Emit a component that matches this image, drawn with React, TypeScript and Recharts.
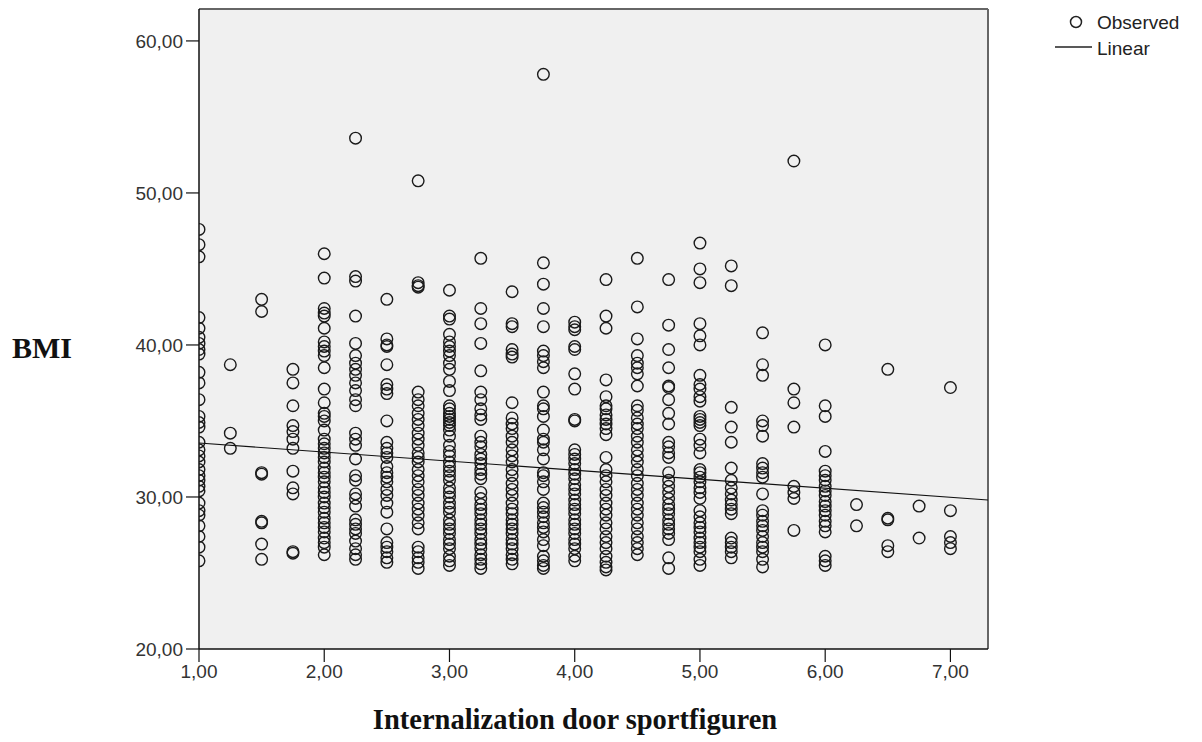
import React from "react";
import {
  ScatterChart,
  Scatter,
  XAxis,
  YAxis,
  CartesianGrid,
  ReferenceLine,
  Label,
} from "recharts";

// x categories (Internalization door sportfiguren) and observed BMI values per x
const xLevels = [1, 1.25, 1.5, 1.75, 2, 2.25, 2.5, 2.75, 3, 3.25, 3.5, 3.75, 4, 4.25, 4.5, 4.75, 5, 5.25, 5.5, 5.75, 6, 6.25, 6.5, 6.75, 7];

const bmi100 = [47.6, 46.6, 45.8, 41.8, 41.1, 40.5, 40.1, 39.7, 39.4, 38.2, 37.5, 36.4, 35.3, 34.9, 34.6, 33.6, 33.1, 32.7, 32.3, 31.8, 31.4, 31.1, 30.7, 30.4, 29.6, 29.1, 28.8, 28.1, 27.4, 26.7, 25.8];
const bmi125 = [38.7, 34.2, 33.2];
const bmi150 = [43.0, 42.2, 31.6, 31.5, 28.4, 28.3, 26.9, 25.9];
const bmi175 = [38.4, 37.5, 36.0, 34.7, 34.3, 33.8, 33.2, 31.7, 30.6, 30.2, 26.4, 26.3];
const bmi200 = [46.0, 44.4, 42.4, 42.1, 41.9, 41.1, 40.2, 39.9, 39.6, 39.3, 38.5, 37.1, 36.2, 35.5, 35.3, 35.0, 34.4, 33.8, 33.5, 33.2, 32.9, 32.6, 32.3, 31.9, 31.6, 31.3, 31.0, 30.6, 30.3, 30.0, 29.6, 29.3, 29.0, 28.6, 28.3, 28.0, 27.7, 27.3, 27.0, 26.7, 26.2];
const bmi225 = [53.6, 44.5, 44.2, 41.9, 40.1, 39.3, 38.8, 38.4, 38.0, 37.5, 37.0, 36.4, 36.0, 34.2, 33.8, 33.4, 32.5, 31.4, 31.1, 30.2, 29.9, 29.4, 28.5, 28.2, 27.9, 27.6, 27.1, 26.6, 26.2, 25.9];
const bmi250 = [43.0, 40.4, 40.0, 39.9, 38.7, 37.4, 37.1, 36.8, 35.0, 33.6, 33.2, 32.9, 32.6, 32.0, 31.6, 31.3, 31.0, 30.5, 30.1, 29.6, 29.0, 27.9, 27.0, 26.7, 26.4, 26.0, 25.7];
const bmi275 = [50.8, 44.1, 43.9, 43.8, 36.9, 36.4, 36.0, 35.5, 35.1, 34.7, 34.2, 33.8, 33.4, 32.9, 32.6, 32.3, 31.8, 31.4, 31.0, 30.5, 30.1, 29.6, 29.2, 28.8, 28.3, 27.9, 26.7, 26.4, 26.0, 25.7, 25.3];
const bmi300 = [43.6, 41.9, 41.7, 40.7, 40.2, 39.9, 39.6, 39.3, 38.8, 38.4, 37.6, 37.0, 36.0, 35.8, 35.5, 35.3, 35.1, 34.9, 34.7, 34.4, 34.0, 33.4, 33.0, 32.7, 32.3, 32.0, 31.7, 31.4, 31.1, 30.6, 30.3, 30.0, 29.6, 29.3, 29.0, 28.5, 28.2, 27.9, 27.6, 27.2, 26.9, 26.6, 26.1, 25.8, 25.5];
const bmi325 = [45.7, 42.4, 41.4, 40.1, 38.3, 36.9, 36.4, 35.8, 35.4, 35.1, 34.0, 33.6, 33.3, 32.8, 32.5, 32.2, 31.8, 31.5, 31.2, 30.3, 29.9, 29.5, 29.2, 28.9, 28.5, 28.2, 27.9, 27.6, 27.2, 26.9, 26.6, 26.2, 25.9, 25.6, 25.3];
const bmi350 = [43.5, 41.4, 41.2, 39.7, 39.4, 39.2, 36.2, 35.2, 34.8, 34.5, 34.0, 33.6, 33.1, 32.7, 32.3, 31.8, 31.4, 30.9, 30.5, 30.1, 29.6, 29.2, 28.9, 28.5, 28.2, 27.9, 27.6, 27.2, 26.9, 26.6, 26.2, 25.9, 25.6];
const bmi375 = [57.8, 45.4, 44.0, 42.4, 41.2, 39.6, 39.3, 38.9, 38.5, 36.9, 36.0, 35.8, 35.3, 34.4, 33.8, 33.6, 33.1, 32.5, 31.6, 31.4, 31.0, 30.5, 29.6, 29.3, 29.0, 28.7, 28.3, 28.0, 27.7, 27.2, 26.8, 26.1, 25.8, 25.5, 25.3];
const bmi400 = [41.5, 41.2, 41.0, 39.9, 39.7, 38.1, 37.1, 35.1, 35.0, 33.1, 32.8, 32.5, 32.2, 31.8, 31.5, 31.2, 30.8, 30.5, 30.2, 29.8, 29.5, 29.2, 28.9, 28.5, 28.2, 27.9, 27.6, 27.2, 26.9, 26.6, 26.1, 25.8];
const bmi425 = [44.3, 41.9, 41.1, 37.7, 36.6, 36.0, 35.8, 35.4, 35.1, 34.8, 34.5, 34.1, 32.6, 31.8, 31.4, 31.0, 30.5, 30.1, 29.6, 29.2, 28.8, 28.3, 27.9, 27.4, 27.0, 26.6, 26.1, 25.7, 25.4, 25.2];
const bmi450 = [45.7, 42.5, 40.4, 39.3, 38.8, 38.5, 38.1, 37.3, 36.0, 35.7, 35.2, 34.8, 34.5, 34.0, 33.6, 33.1, 32.7, 32.3, 31.8, 31.4, 30.9, 30.5, 30.1, 29.6, 29.2, 28.8, 28.3, 27.9, 27.4, 27.0, 26.6, 26.2];
const bmi475 = [44.3, 41.3, 39.7, 38.5, 37.3, 37.2, 36.4, 35.5, 34.8, 33.6, 33.3, 32.9, 32.6, 31.6, 31.1, 30.7, 30.3, 29.9, 29.5, 29.2, 28.9, 28.5, 28.2, 27.9, 27.6, 27.2, 26.0, 25.3];
const bmi500 = [46.7, 45.0, 44.1, 41.4, 40.6, 40.0, 38.0, 37.4, 37.1, 36.6, 36.3, 35.3, 35.1, 34.9, 34.7, 33.8, 33.4, 32.9, 31.8, 31.6, 31.3, 31.0, 30.6, 30.3, 29.9, 29.1, 28.7, 28.3, 28.0, 27.7, 27.3, 27.0, 26.7, 26.4, 25.9, 25.5];
const bmi525 = [45.2, 43.9, 35.9, 34.6, 33.6, 31.9, 31.1, 30.6, 30.2, 29.8, 29.5, 29.2, 28.9, 27.3, 27.0, 26.7, 26.4, 26.0];
const bmi550 = [40.8, 38.7, 38.0, 35.0, 34.7, 34.0, 32.2, 31.9, 31.6, 31.3, 30.2, 29.1, 28.8, 28.4, 28.1, 27.8, 27.4, 27.0, 26.7, 26.4, 25.9, 25.4];
const bmi575 = [52.1, 37.1, 36.2, 34.6, 30.7, 30.3, 29.9, 27.8];
const bmi600 = [40.0, 36.0, 35.3, 33.0, 31.7, 31.4, 31.1, 30.7, 30.4, 30.1, 29.7, 29.4, 29.1, 28.8, 28.4, 28.1, 27.7, 26.1, 25.8, 25.5];
const bmi625 = [29.5, 28.1];
const bmi650 = [38.4, 28.6, 28.5, 26.8, 26.4];
const bmi675 = [29.4, 27.3];
const bmi700 = [37.2, 29.1, 27.4, 27.0, 26.6];

const bmiByLevel = [bmi100, bmi125, bmi150, bmi175, bmi200, bmi225, bmi250, bmi275, bmi300, bmi325, bmi350, bmi375, bmi400, bmi425, bmi450, bmi475, bmi500, bmi525, bmi550, bmi575, bmi600, bmi625, bmi650, bmi675, bmi700];

// linear fit line endpoints
const fitX = [1, 7.3];
const fitY = [33.55, 29.8];

const xTicks = [1, 2, 3, 4, 5, 6, 7];
const yTicks = [20, 30, 40, 50, 60];
const xDomain = [1, 7.3];
const yDomain = [20, 62.1];

const legendLabels = ["Observed", "Linear"];

const observed = xLevels.flatMap((x, i) => bmiByLevel[i].map((y) => ({ x, y })));
const fitData = fitX.map((x, i) => ({ x, y: fitY[i] }));

const fmt = (v: number) => v.toFixed(2).replace(".", ",");

const tickStyle = { fontFamily: "Liberation Sans, Arial, sans-serif", fontSize: 19, fill: "#333" };

const OpenCircle = (props: any) => {
  const { cx, cy } = props;
  if (cx == null || cy == null) return <g />;
  return <circle cx={cx} cy={cy} r={5.8} fill="none" stroke="#1a1a1a" strokeWidth={1.4} />;
};

const LegendBox = () => (
  <svg width={162} height={70} style={{ position: "absolute", left: 1040, top: 0 }}>
    <circle cx={36} cy={22} r={5.5} fill="none" stroke="#222" strokeWidth={1.5} />
    <text x={57} y={29} fontFamily="Liberation Sans, Arial, sans-serif" fontSize={19} fill="#222">{legendLabels[0]}</text>
    <line x1={15} x2={52} y1={47} y2={47} stroke="#222" strokeWidth={1.5} />
    <text x={57} y={55} fontFamily="Liberation Sans, Arial, sans-serif" fontSize={19} fill="#222">{legendLabels[1]}</text>
  </svg>
);

export default function App() {
  return (
    <div style={{ position: "absolute", left: 0, top: 0, width: 1202, height: 742, background: "#fff" }}>
      <ScatterChart width={1202} height={742} margin={{ top: 9, right: 214, bottom: 0, left: 0 }}>
        <CartesianGrid fill="#f0f0f0" horizontal={false} vertical={false} />
        <XAxis
          type="number"
          dataKey="x"
          domain={xDomain}
          ticks={xTicks}
          allowDataOverflow
          height={93}
          tickFormatter={fmt}
          tickSize={13}
          tickMargin={3}
          tick={tickStyle}
          axisLine={{ stroke: "#111", strokeWidth: 1.5 }}
          tickLine={{ stroke: "#111", strokeWidth: 1.2 }}
        >
          <Label
            content={() => (
              <text x={575} y={729} textAnchor="middle" fontFamily="Liberation Serif, Times New Roman, serif" fontWeight="bold" fontSize={28.5} fill="#111">
                Internalization door sportfiguren
              </text>
            )}
          />
        </XAxis>
        <YAxis
          type="number"
          dataKey="y"
          domain={yDomain}
          ticks={yTicks}
          allowDataOverflow
          width={199}
          tickFormatter={fmt}
          tickSize={13}
          tickMargin={3}
          tick={tickStyle}
          axisLine={{ stroke: "#111", strokeWidth: 1.5 }}
          tickLine={{ stroke: "#111", strokeWidth: 1.2 }}
        >
          <Label
            content={() => (
              <text x={42} y={358} textAnchor="middle" fontFamily="Liberation Serif, Times New Roman, serif" fontWeight="bold" fontSize={30} fill="#111">
                BMI
              </text>
            )}
          />
        </YAxis>
        <ReferenceLine y={yDomain[1]} stroke="#666" strokeWidth={2} />
        <ReferenceLine x={xDomain[1]} stroke="#666" strokeWidth={2} />
        <Scatter name="Observed" data={observed} shape={<OpenCircle />} isAnimationActive={false} />
        <Scatter
          name="Linear"
          data={fitData}
          line={{ stroke: "#111", strokeWidth: 1.2 }}
          shape={() => <g />}
          isAnimationActive={false}
        />
      </ScatterChart>
      <LegendBox />
    </div>
  );
}
